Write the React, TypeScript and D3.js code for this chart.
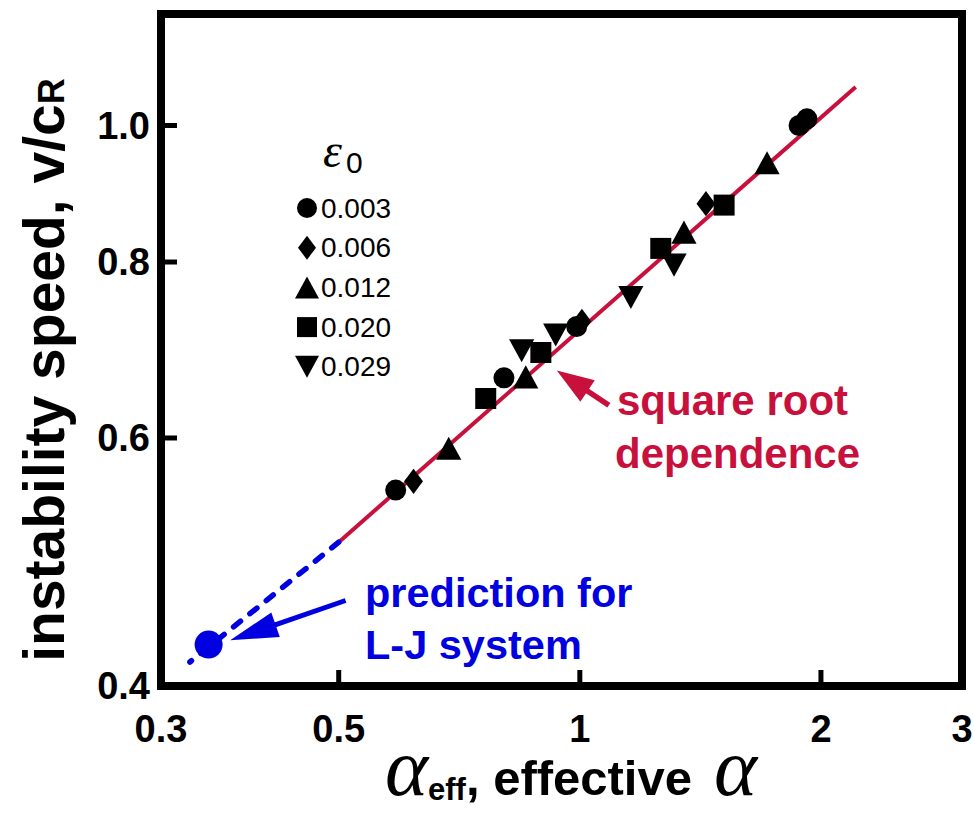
import React from "react";
import * as d3 from "d3";

// ---- data ----
const xTickValues = [0.3, 0.5, 1, 2, 3];
const xTickMarks = [0.5, 1, 2];
const yTickValues = [0.4, 0.6, 0.8, 1.0];
const yTickMarks = [0.6, 0.8, 1.0];

const strainLabels = ["0.003", "0.006", "0.012", "0.020", "0.029"];
const strainShapes = ["circle", "diamond", "triangle", "square", "triangleDown"];

// series: [a_eff, v/cR]
const series003 = [[0.589, 0.551], [0.804, 0.662], [0.991, 0.72], [1.878, 1.0], [1.921, 1.011]];
const series006 = [[0.62, 0.559], [1.006, 0.726], [1.437, 0.88]];
const series012 = [[0.686, 0.59], [0.856, 0.663], [1.349, 0.84], [1.713, 0.941]];
const series020 = [[0.763, 0.64], [0.894, 0.69], [1.262, 0.818], [1.514, 0.878]];
const series029 = [[0.846, 0.692], [0.933, 0.71], [1.158, 0.755], [1.311, 0.796]];
const allSeries = [series003, series006, series012, series020, series029];

const fitLine = [[0.5, 0.506], [2.21, 1.065]];
const predictionLine = [[0.5, 0.506], [0.326, 0.416]];
const predictionPoint = [0.344, 0.428];

const RED = "#c8103c";
const BLUE = "#0000e0";
const SANS = "'Liberation Sans', Arial, Helvetica, sans-serif";
const SERIF = "'Liberation Serif', 'Times New Roman', serif";

function shapePath(shape: string, cx: number, cy: number, s: number) {
  const p = d3.path();
  if (shape === "circle") {
    p.arc(cx, cy, s * 0.5, 0, Math.PI * 2);
  } else if (shape === "diamond") {
    const w = s * 0.45, h = s * 0.6;
    p.moveTo(cx, cy - h); p.lineTo(cx + w, cy); p.lineTo(cx, cy + h); p.lineTo(cx - w, cy); p.closePath();
  } else if (shape === "triangle") {
    const w = s * 0.6, h = s * 0.55;
    p.moveTo(cx, cy - h); p.lineTo(cx + w, cy + h); p.lineTo(cx - w, cy + h); p.closePath();
  } else if (shape === "triangleDown") {
    const w = s * 0.6, h = s * 0.55;
    p.moveTo(cx, cy + h); p.lineTo(cx + w, cy - h); p.lineTo(cx - w, cy - h); p.closePath();
  } else {
    const h = s * 0.5;
    p.rect(cx - h, cy - h, 2 * h, 2 * h);
  }
  return p.toString();
}

function arrow(tail: [number, number], tip: [number, number], L: number, W: number) {
  const dx = tail[0] - tip[0], dy = tail[1] - tip[1];
  const len = Math.hypot(dx, dy);
  const ux = dx / len, uy = dy / len;
  const nx = -uy, ny = ux;
  const bx = tip[0] + ux * L, by = tip[1] + uy * L;
  const head = `M${tip[0]},${tip[1]}L${bx + nx * W},${by + ny * W}L${bx - nx * W},${by - ny * W}Z`;
  return { head, line: [tail, [bx + ux * -2, by + uy * -2]] as [number, number][] };
}

export default function App() {
  const left = 161, right = 962, top = 14, bottom = 686;
  const x = d3.scaleLog().domain([0.3, 3]).range([left, right]);
  const y = d3.scaleLog().domain([0.4, 1.2]).range([bottom, top]);
  const line = d3.line<number[]>().x((d) => x(d[0])).y((d) => y(d[1]));

  const blueArrow = arrow([x(0.51), y(0.46)], [x(0.366), y(0.431)], 48, 13);
  const redArrow = arrow([x(1.087), y(0.633)], [x(0.936), y(0.67)], 37, 13);

  return (
    <svg width={974} height={813} style={{ position: "absolute", left: 0, top: 0, background: "#fff" }}>
      <rect x={0} y={0} width={974} height={813} fill="#fff" />
      {/* fit line */}
      <path d={line(fitLine) || ""} stroke={RED} strokeWidth={4} fill="none" />
      <path d={line(predictionLine) || ""} stroke={BLUE} strokeWidth={5.5} fill="none"
        strokeDasharray="9 12" strokeLinecap="round" />
      {/* data points */}
      {allSeries.map((ser, i) =>
        ser.map((d, j) => (
          <path key={`${i}-${j}`} d={shapePath(strainShapes[i], x(d[0]), y(d[1]), 21)} fill="#000" />
        ))
      )}
      {/* prediction point */}
      <circle cx={x(predictionPoint[0])} cy={y(predictionPoint[1])} r={14} fill={BLUE} />
      {/* blue arrow */}
      <path d={d3.line()(blueArrow.line) || ""} stroke={BLUE} strokeWidth={5} />
      <path d={blueArrow.head} fill={BLUE} />
      {/* red arrow */}
      <path d={d3.line()(redArrow.line) || ""} stroke={RED} strokeWidth={5.5} />
      <path d={redArrow.head} fill={RED} />
      {/* annotations */}
      <text x={617} y={415} fill={RED} fontFamily={SANS} fontWeight="bold" fontSize={42}>square root</text>
      <text x={615} y={468} fill={RED} fontFamily={SANS} fontWeight="bold" fontSize={42}>dependence</text>
      <text x={365} y={607} fill={BLUE} fontFamily={SANS} fontWeight="bold" fontSize={41.5}>prediction for</text>
      <text x={365} y={659} fill={BLUE} fontFamily={SANS} fontWeight="bold" fontSize={41.5}>L-J system</text>
      {/* legend */}
      <text x={323} y={167} fontFamily={SERIF} fontStyle="italic" fontSize={48}>ε</text>
      <text x={346} y={173} fontFamily={SANS} fontSize={30}>0</text>
      {strainLabels.map((lab, i) => {
        const cy = 208 + i * 39.7;
        return (
          <g key={lab}>
            <path d={shapePath(strainShapes[i], 307, cy, 20)} fill="#000" />
            <text x={321} y={cy + 9.5} fontFamily={SANS} fontSize={28}>{lab}</text>
          </g>
        );
      })}
      {/* frame */}
      <rect x={left} y={top} width={right - left} height={bottom - top} fill="none" stroke="#000" strokeWidth={8} />
      {/* ticks */}
      {xTickMarks.map((t) => (
        <line key={`xt${t}`} x1={x(t)} x2={x(t)} y1={bottom} y2={bottom - 16} stroke="#000" strokeWidth={5} />
      ))}
      {yTickMarks.map((t) => (
        <line key={`yt${t}`} x1={left} x2={left + 16} y1={y(t)} y2={y(t)} stroke="#000" strokeWidth={5} />
      ))}
      {xTickValues.map((t) => (
        <text key={`xl${t}`} x={x(t)} y={742} textAnchor="middle" fontFamily={SANS} fontWeight="bold" fontSize={38}>
          {String(t)}
        </text>
      ))}
      {yTickValues.map((t) => (
        <text key={`yl${t}`} x={150} y={y(t) + 13} textAnchor="end" fontFamily={SANS} fontWeight="bold" fontSize={38}>
          {t.toFixed(1)}
        </text>
      ))}
      {/* axis titles */}
      <text transform="translate(64,370) rotate(-90)" textAnchor="middle" fontFamily={SANS} fontWeight="bold" fontSize={57}>
        instability speed, v/c<tspan fontSize={36}>R</tspan>
      </text>
      <text x={571} y={795} textAnchor="middle" fontFamily={SANS} fontWeight="bold" fontSize={49}>
        <tspan fontFamily={SERIF} fontStyle="italic" fontWeight="normal" fontSize={82}>α</tspan>
        <tspan fontSize={31} dy={5}>eff</tspan>
        <tspan dy={-5}>, effective</tspan>
        <tspan dx={22} fontFamily={SERIF} fontStyle="italic" fontWeight="normal" fontSize={82}>α</tspan>
      </text>
    </svg>
  );
}
